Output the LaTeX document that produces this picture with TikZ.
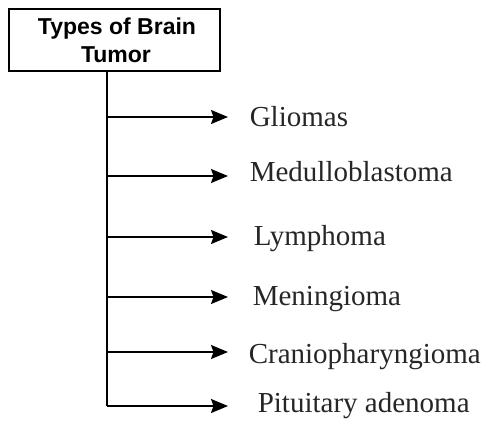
\documentclass[tikz,border=0pt]{standalone}
\usepackage{fontspec}
\setmainfont{Liberation Serif}
\newfontfamily\boxfont{Liberation Sans}
\usetikzlibrary{arrows.meta}
\begin{document}
\begin{tikzpicture}[x=1pt,y=-1pt,
  line width=1.6pt,
  arr/.style={-{Stealth[length=17pt,width=14pt,inset=2.5pt]}},
  item/.style={anchor=base west, inner sep=0pt, font=\fontsize{29}{34}\selectfont, text=black!85}]
\useasboundingbox (0,0) rectangle (485,421);
\node[draw, line width=1.6pt, minimum width=211pt, minimum height=62pt, inner sep=0pt,
  anchor=north west] (root) at (8,8) {};
\node[anchor=base, inner sep=0pt, font=\boxfont\bfseries\fontsize{23}{28}\selectfont] (r1) at (117,34) {Types of Brain};
\node[anchor=base, inner sep=0pt, font=\boxfont\bfseries\fontsize{23}{28}\selectfont] (r2) at (116,62) {Tumor};
\coordinate (t1) at (107,117);
\coordinate (t2) at (107,176);
\coordinate (t3) at (107,237);
\coordinate (t4) at (107,297);
\coordinate (t5) at (107,352);
\coordinate (t6) at (107,406);
\coordinate (e1) at (228,117);
\coordinate (e2) at (228,176);
\coordinate (e3) at (228,237);
\coordinate (e4) at (228,297);
\coordinate (e5) at (228,352);
\coordinate (e6) at (228,406);
\draw (root.south -| t6) -- (t6);
\foreach \i in {1,...,6} { \draw[arr] (t\i) -- (e\i); }
\node[item] (l1) at (249,126) {Gliomas};
\node[item] (l2) at (249,181) {Medulloblastoma};
\node[item] (l3) at (253,245) {Lymphoma};
\node[item] (l4) at (252,305) {Meningioma};
\node[item] (l5) at (248,363) {Craniopharyngioma};
\node[item] (l6) at (257,412) {Pituitary adenoma};
\end{tikzpicture}
\end{document}
